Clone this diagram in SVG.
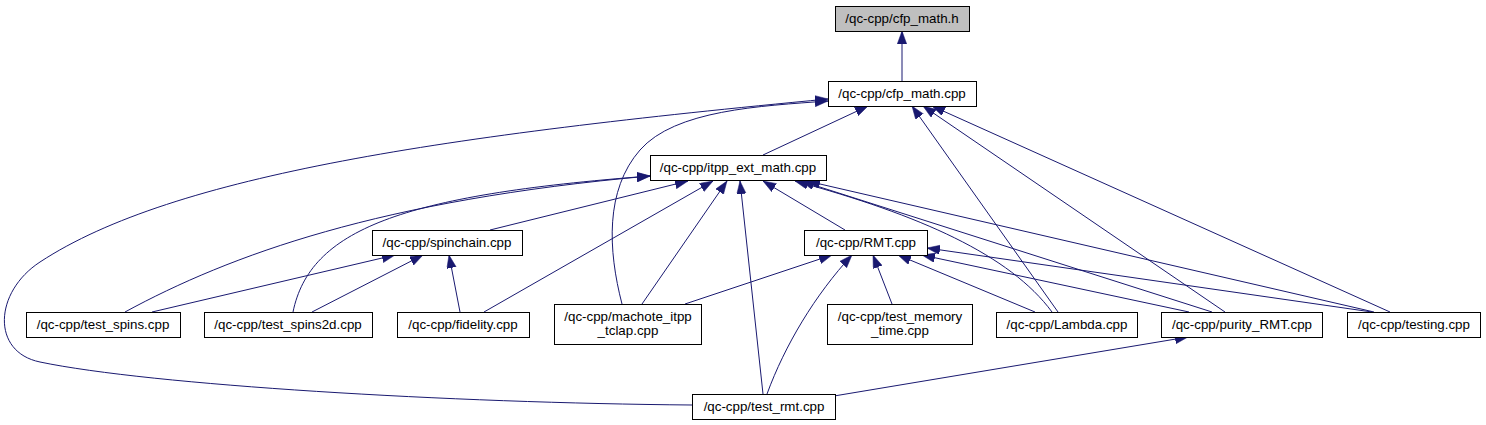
<svg xmlns="http://www.w3.org/2000/svg" width="1486" height="425" viewBox="0 0 1486 425">
<defs>
<style>
.node rect{fill:#ffffff;stroke:#000000;stroke-width:1}
.node.root rect{fill:#bfbfbf}
.node text{font-family:"Liberation Sans",Arial,Helvetica,sans-serif;font-size:13.33px;fill:#000000;text-anchor:middle}
#edges path{fill:none;stroke:#191970;stroke-width:1;marker-end:url(#arr)}
</style>
<marker id="arr" markerUnits="userSpaceOnUse" markerWidth="13" markerHeight="10" refX="13" refY="4.7" orient="auto">
<path d="M0,0 L13,4.7 L0,9.4 z" fill="#191970" stroke="#191970" stroke-width="0.5"/>
</marker>
</defs>
<rect width="1486" height="425" fill="#ffffff"/>
<g id="edges">
<path d="M902,81 L902,31"/>
<path d="M763,155 L868,106"/>
<path d="M692,405 C 450,403 150,385 40,362 C -9,352 -6,292 40,262 C 174,174 450,135 828,99"/>
<path d="M622,304 C 608,250 605,190 640,150 C 675,110 760,106 828,101"/>
<path d="M1058,312 L912,106"/>
<path d="M1225,312 L923,106"/>
<path d="M1390,312 L932,106"/>
<path d="M490,230 L688,181"/>
<path d="M125,312 C 230,255 380,200 650,176"/>
<path d="M293,312 C 310,230 400,195 650,176"/>
<path d="M484,312 L713,181"/>
<path d="M642,304 L727,181"/>
<path d="M763,394 L740,181"/>
<path d="M845,230 L763,181"/>
<path d="M1052,312 C 1010,255 920,215 795,181"/>
<path d="M1212,312 L801,181"/>
<path d="M1374,312 L807,181"/>
<path d="M152,312 L395,255"/>
<path d="M312,312 L423,255"/>
<path d="M460,312 L449,255"/>
<path d="M685,304 L832,255"/>
<path d="M767,394 C 785,345 815,295 852,255"/>
<path d="M892,304 L873,255"/>
<path d="M1035,312 L898,255"/>
<path d="M1189,312 L922,255"/>
<path d="M1372,312 L927,248"/>
<path d="M834,396 L1188,337"/>
</g>
<g id="n_cfp_h" class="node root"><rect x="835.5" y="6.5" width="134" height="25"/><text x="902" y="23">/qc-cpp/cfp_math.h</text></g>
<g id="n_cfp_cpp" class="node"><rect x="828.5" y="81.5" width="148" height="25"/><text x="902" y="98">/qc-cpp/cfp_math.cpp</text></g>
<g id="n_itpp" class="node"><rect x="650.5" y="155.5" width="176" height="25"/><text x="738" y="172">/qc-cpp/itpp_ext_math.cpp</text></g>
<g id="n_spinchain" class="node"><rect x="372.5" y="230.5" width="150" height="25"/><text x="447" y="247">/qc-cpp/spinchain.cpp</text></g>
<g id="n_rmt" class="node"><rect x="804.5" y="230.5" width="123" height="25"/><text x="866" y="247">/qc-cpp/RMT.cpp</text></g>
<g id="n_test_spins" class="node"><rect x="26.5" y="312.5" width="154" height="25"/><text x="103" y="329">/qc-cpp/test_spins.cpp</text></g>
<g id="n_test_spins2d" class="node"><rect x="204.5" y="312.5" width="168" height="25"/><text x="288" y="329">/qc-cpp/test_spins2d.cpp</text></g>
<g id="n_fidelity" class="node"><rect x="397.5" y="312.5" width="132" height="25"/><text x="463" y="329">/qc-cpp/fidelity.cpp</text></g>
<g id="n_machote" class="node"><rect x="554.5" y="304.5" width="147" height="40"/><text x="628" y="321">/qc-cpp/machote_itpp</text><text x="628" y="335">_tclap.cpp</text></g>
<g id="n_memory" class="node"><rect x="827.5" y="304.5" width="145" height="40"/><text x="900" y="321">/qc-cpp/test_memory</text><text x="900" y="335">_time.cpp</text></g>
<g id="n_lambda" class="node"><rect x="996.5" y="312.5" width="141" height="25"/><text x="1067" y="329">/qc-cpp/Lambda.cpp</text></g>
<g id="n_purity" class="node"><rect x="1161.5" y="312.5" width="161" height="25"/><text x="1242" y="329">/qc-cpp/purity_RMT.cpp</text></g>
<g id="n_testing" class="node"><rect x="1347.5" y="312.5" width="133" height="25"/><text x="1414" y="329">/qc-cpp/testing.cpp</text></g>
<g id="n_test_rmt" class="node"><rect x="692.5" y="394.5" width="143" height="25"/><text x="764" y="411">/qc-cpp/test_rmt.cpp</text></g>
</svg>
